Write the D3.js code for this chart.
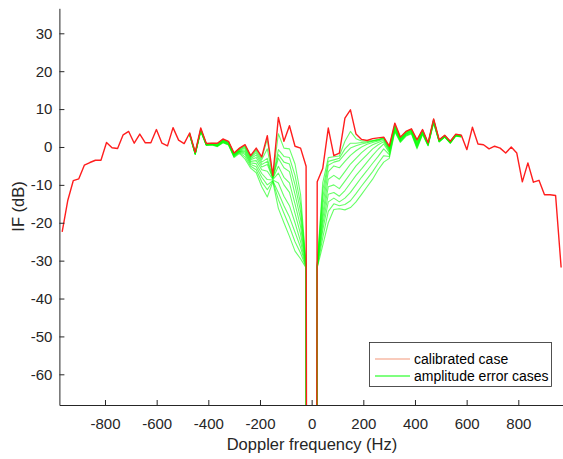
<!DOCTYPE html>
<html>
<head>
<meta charset="utf-8">
<script src="https://cdn.jsdelivr.net/npm/d3@7"></script>
<style>
  body { margin: 0; background: #fff; }
  svg { display: block; font-family: "Liberation Sans", Arial, sans-serif; }
</style>
</head>
<body>
<div id="chart"></div>
<script>
// Doppler bins (Hz)
const freqs = [
  -965.8, -944.4, -922.9, -901.4, -880.0, -858.5, -837.1, -815.6, -794.1, -772.7,
  -751.2, -729.7, -708.3, -686.8, -665.3, -643.9, -622.4, -601.0, -579.5, -558.0,
  -536.6, -515.1, -493.6, -472.2, -450.7, -429.3, -407.8, -386.3, -364.9, -343.4,
  -321.9, -300.5, -279.0, -257.6, -236.1, -214.6, -193.2, -171.7, -150.2, -128.8,
  -107.3, -85.9, -64.4, -42.9, -21.5,
  0,
  21.5, 42.9, 64.4, 85.9, 107.3, 128.8, 150.2, 171.7, 193.2, 214.6,
  236.1, 257.6, 279.0, 300.5, 321.9, 343.4, 364.9, 386.3, 407.8, 429.3,
  450.7, 472.2, 493.6, 515.1, 536.6, 558.0, 579.5, 601.0, 622.4, 643.9,
  665.3, 686.8, 708.3, 729.7, 751.2, 772.7, 794.1, 815.6, 837.1, 858.5,
  880.0, 901.4, 922.9, 944.4, 965.8
];

// calibrated case (dB), the DC bin is a deep null
const calibrated = [
  -22.4, -14.2, -8.9, -8.4, -4.8, -4.1, -3.5, -3.5, 1.2, -0.2,
  -0.4, 3.2, 4.1, 1.0, 3.4, 1.1, 1.1, 4.6, 1.0, 0.3,
  5.1, 1.8, 0.9, 3.7, -1.4, 5.0, 0.9, 1.0, 1.0, 2.1,
  1.5, -1.6, -0.3, 0.6, -2.3, -0.3, -2.6, 3.0, -7.6, 7.8,
  1.5, 5.6, 0.2, -0.3, -5.1,
  -1000,
  -9.2, -5.7, 5.0, -2.3, -1.6, 7.6, 9.8, 3.4, 2.0, 1.7,
  2.2, 2.4, 2.6, 0.2, 6.3, 2.6, 4.1, 4.8, 1.9, 4.6,
  1.1, 7.4, 1.9, 3.1, 1.5, 3.4, 3.1, -0.7, 5.2, 0.8,
  0.6, -0.5, 0.2, -0.3, -1.6, 0.0, -1.6, -9.2, -4.2, -9.3,
  -8.8, -12.6, -12.6, -12.8, -31.8
];

// amplitude error cases, bins -472 Hz .. +580 Hz (outside they sit on the calibrated curve)
const errorFreqs = freqs.slice(23, 73);
const errorCases = [
  [3.6, -1.5, 4.8, 0.9, 1.0, 0.9, 2.0, 1.4, -1.7, -0.4, 0.4, -2.4, -0.6, -2.9, 2.0, -7.8, 3.5, -0.3, -0.5, -4.5, -12.5, -31.0,
   -1000,
   -31.0, -9.5, -2.8, -2.6, -2.4, 1.5, 4.1, 2.2, 1.6, 1.5, 1.7, 2.0, 2.5, 0.0,
   6.0, 2.5, 4.0, 4.7, 1.8, 4.5, 1.0, 7.3, 1.8, 3.0, 1.4, 3.3, 3.1],
  [3.5, -1.6, 4.7, 0.8, 0.9, 0.8, 1.9, 1.3, -1.8, -0.5, 0.2, -2.6, -1.0, -3.4, -0.5, -8.0, -0.7, -2.5, -2.8, -7.5, -15.0, -31.1,
   -1000,
   -31.1, -11.5, -3.8, -3.4, -3.0, -0.5, 1.0, 1.0, 1.2, 1.3, 1.6, 1.9, 2.4, -0.1,
   5.8, 2.4, 3.9, 4.6, 1.5, 4.4, 0.9, 7.2, 1.8, 3.0, 1.4, 3.3, 3.0],
  [3.5, -1.6, 4.6, 0.8, 0.9, 0.7, 1.8, 1.2, -1.9, -0.7, -0.1, -2.8, -1.5, -4.0, -3.0, -8.1, -2.0, -4.0, -4.5, -10.0, -17.0, -31.2,
   -1000,
   -31.2, -13.5, -4.8, -4.0, -3.6, -1.8, -0.3, 0.3, 0.8, 1.1, 1.5, 1.8, 2.3, -0.3,
   5.6, 2.2, 3.8, 4.5, 1.3, 4.2, 0.9, 7.1, 1.7, 2.9, 1.3, 3.2, 3.0],
  [3.4, -1.7, 4.5, 0.7, 0.8, 0.6, 1.7, 1.1, -2.0, -0.8, -0.4, -3.1, -2.1, -4.6, -3.8, -8.3, -3.0, -5.5, -6.5, -12.5, -19.0, -31.3,
   -1000,
   -31.3, -15.5, -6.5, -5.0, -5.5, -3.8, -2.2, -1.0, 0.0, 0.7, 1.2, 1.6, 2.1, -0.5,
   5.4, 2.1, 3.6, 4.4, 1.0, 4.1, 0.8, 7.0, 1.7, 2.9, 1.3, 3.2, 2.9],
  [3.4, -1.7, 4.5, 0.7, 0.8, 0.5, 1.6, 1.0, -2.1, -1.0, -0.8, -3.4, -2.8, -5.3, -4.6, -8.4, -5.1, -8.0, -9.5, -15.0, -21.0, -31.4,
   -1000,
   -31.4, -17.5, -8.5, -7.5, -8.5, -6.5, -4.5, -3.0, -1.5, -0.3, 0.6, 1.2, 1.8, -0.8,
   5.2, 2.0, 3.5, 4.2, 0.8, 4.0, 0.7, 6.9, 1.6, 2.8, 1.2, 3.1, 2.9],
  [3.3, -1.8, 4.4, 0.6, 0.7, 0.4, 1.5, 0.9, -2.2, -1.1, -1.2, -3.8, -3.6, -6.0, -6.4, -8.6, -6.9, -10.0, -12.0, -17.5, -23.0, -31.5,
   -1000,
   -31.5, -19.0, -10.5, -10.0, -11.0, -9.0, -7.0, -5.0, -3.5, -2.0, -0.5, 0.6, 1.4, -1.1,
   5.0, 1.8, 3.4, 4.1, 0.5, 3.9, 0.6, 6.8, 1.5, 2.8, 1.2, 3.1, 2.8],
  [3.3, -1.8, 4.3, 0.6, 0.7, 0.3, 1.4, 0.8, -2.3, -1.2, -1.6, -4.2, -4.4, -7.0, -8.6, -8.7, -9.5, -13.0, -15.5, -20.0, -25.0, -31.6,
   -1000,
   -31.6, -20.5, -12.5, -12.0, -13.0, -11.5, -9.5, -7.5, -5.8, -4.0, -2.2, -0.6, 0.8, -1.5,
   4.7, 1.7, 3.3, 4.0, 0.3, 3.7, 0.6, 6.7, 1.5, 2.7, 1.1, 3.0, 2.8],
  [3.2, -1.9, 4.3, 0.5, 0.6, 0.3, 1.3, 0.7, -2.5, -1.3, -2.0, -4.6, -5.2, -8.0, -10.0, -8.9, -12.1, -15.5, -18.5, -22.5, -26.5, -31.7,
   -1000,
   -31.7, -22.0, -14.5, -13.5, -14.5, -13.5, -12.0, -10.0, -8.0, -6.2, -4.3, -2.5, -0.5, -2.0,
   4.5, 1.5, 3.1, 3.8, 0.0, 3.6, 0.5, 6.5, 1.4, 2.7, 1.1, 3.0, 2.7],
  [3.2, -1.9, 4.2, 0.5, 0.6, 0.2, 1.2, 0.6, -2.6, -1.5, -2.6, -5.1, -6.0, -9.2, -11.3, -9.0, -13.9, -17.5, -21.0, -25.0, -28.0, -31.8,
   -1000,
   -31.8, -24.0, -17.0, -15.0, -15.5, -15.2, -14.2, -12.3, -10.3, -8.4, -6.5, -4.3, -2.3, -2.5,
   4.2, 1.4, 3.0, 3.6, -0.2, 3.4, 0.4, 6.4, 1.4, 2.6, 1.0, 2.9, 2.7],
  [3.1, -2.0, 4.1, 0.4, 0.5, 0.1, 1.1, 0.5, -2.8, -1.7, -3.2, -5.6, -6.8, -10.5, -13.2, -9.2, -16.2, -20.0, -23.6, -27.5, -29.5, -31.9,
   -1000,
   -31.9, -26.0, -20.0, -16.5, -16.3, -16.6, -16.0, -14.5, -12.5, -10.5, -8.5, -6.0, -4.0, -3.0,
   4.0, 1.2, 2.8, 3.5, -0.5, 3.3, 0.3, 6.3, 1.3, 2.6, 1.0, 2.9, 2.6]
];

const xTicks = [-800, -600, -400, -200, 0, 200, 400, 600, 800];
const yTicks = [30, 20, 10, 0, -10, -20, -30, -40, -50, -60];
const legendLabels = ["calibrated case", "amplitude error cases"];

const W = 563, H = 459;
const axisColor = "#262626";

const svg = d3.select("#chart")
  .append("svg")
  .attr("width", W)
  .attr("height", H);

// Escalas (right end of the axes falls just outside the picture)
const x = d3.scaleLinear().domain([-976.5, 976.5]).range([59.4, 563.9]);
const y = d3.scaleLinear().domain([-68.1, 36.6]).range([405, 8.3]);

svg.append("defs").append("clipPath")
  .attr("id", "plotClip")
  .append("rect")
  .attr("x", x.range()[0])
  .attr("y", y.range()[1])
  .attr("width", x.range()[1] - x.range()[0])
  .attr("height", y.range()[0] - y.range()[1]);

const plot = svg.append("g").attr("clip-path", "url(#plotClip)");

const line = d3.line()
  .x((d) => x(d[0]))
  .y((d) => y(d[1]));

// error cases first, calibrated on top
errorCases.forEach((vals) => {
  plot.append("path")
    .datum(vals.map((v, i) => [errorFreqs[i], v]))
    .attr("d", line)
    .attr("fill", "none")
    .attr("stroke", "#00ff00")
    .attr("stroke-opacity", 0.6)
    .attr("stroke-width", 1.1)
    .attr("stroke-linejoin", "round");
});

plot.append("path")
  .datum(calibrated.map((v, i) => [freqs[i], v]))
  .attr("d", line)
  .attr("fill", "none")
  .attr("stroke", "#ff1e1e")
  .attr("stroke-width", 1.4)
  .attr("stroke-linejoin", "round");

// Eixos
const xAxis = svg.append("g")
  .attr("transform", `translate(0,${y.range()[0]})`)
  .call(d3.axisBottom(x)
    .tickValues(xTicks)
    .tickFormat((d) => String(d))
    .tickSizeInner(-5)
    .tickSizeOuter(0)
    .tickPadding(13));

const yAxis = svg.append("g")
  .attr("transform", `translate(${x.range()[0]},0)`)
  .call(d3.axisLeft(y)
    .tickValues(yTicks)
    .tickFormat((d) => String(d))
    .tickSizeInner(-5)
    .tickSizeOuter(0)
    .tickPadding(7));

[xAxis, yAxis].forEach((g) => {
  g.select(".domain").attr("stroke", axisColor).attr("stroke-width", 1);
  g.selectAll(".tick line").attr("stroke", axisColor);
  g.selectAll(".tick text")
    .attr("fill", axisColor)
    .style("font-size", "15px")
    .style("font-family", "'Liberation Sans', Arial, sans-serif");
});

svg.append("text")
  .attr("x", 312)
  .attr("y", 450)
  .attr("text-anchor", "middle")
  .attr("fill", axisColor)
  .style("font-size", "16.5px")
  .text("Doppler frequency (Hz)");

svg.append("text")
  .attr("transform", "translate(24,206.5) rotate(-90)")
  .attr("text-anchor", "middle")
  .attr("fill", axisColor)
  .style("font-size", "16.5px")
  .text("IF (dB)");

// Legenda
const legend = svg.append("g");
legend.append("rect")
  .attr("x", 369.5)
  .attr("y", 342.5)
  .attr("width", 182)
  .attr("height", 44)
  .attr("fill", "#fff")
  .attr("stroke", axisColor)
  .attr("stroke-width", 0.8);

const legendColors = ["#f4977a", "#00ff00"];
legendLabels.forEach((label, i) => {
  const ly = 359 + i * 17;
  legend.append("line")
    .attr("x1", 375).attr("x2", 410)
    .attr("y1", ly).attr("y2", ly)
    .attr("stroke", legendColors[i])
    .attr("stroke-width", 1.2);
  legend.append("text")
    .attr("x", 414)
    .attr("y", ly + 4.5)
    .attr("fill", "#000")
    .style("font-size", "14px")
    .text(label);
});
</script>
</body>
</html>
